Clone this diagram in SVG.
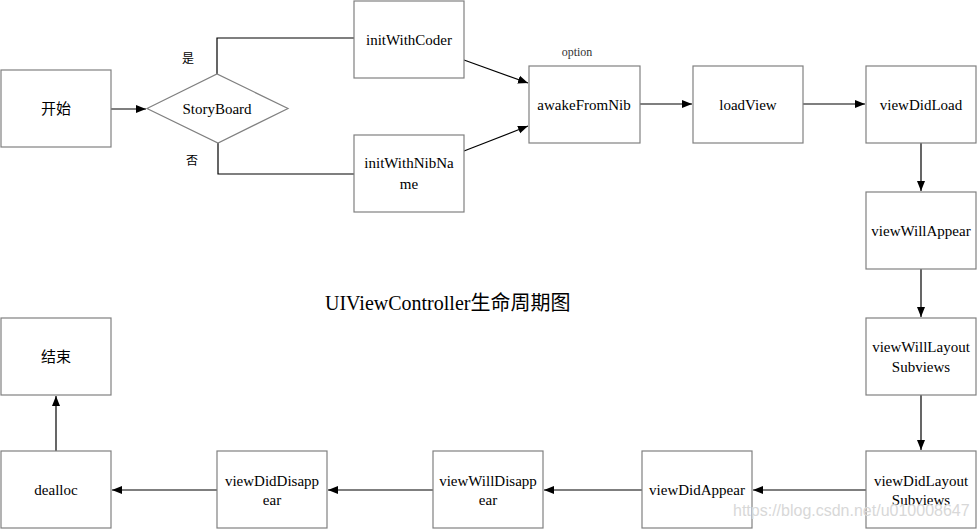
<svg xmlns="http://www.w3.org/2000/svg" width="977" height="529" viewBox="0 0 977 529">
<style>
.box{fill:#fff;stroke:#808080;stroke-width:1.2}
.t{font-family:"Liberation Serif","Noto Sans CJK SC",serif;font-size:15px;fill:#000;text-anchor:middle}
.c{fill:none;stroke:#000;stroke-width:1.2}
.lbl{font-family:"Liberation Serif","Noto Sans CJK SC",serif;font-size:12px;fill:#000;text-anchor:middle}
</style>
<defs>
<marker id="ah" viewBox="0 0 10 10" refX="10" refY="5" markerWidth="10" markerHeight="10" markerUnits="userSpaceOnUse" orient="auto">
<path d="M0,1 L10,5 L0,9 Z" fill="#000"/>
</marker>
</defs>
<rect width="977" height="529" fill="#fff"/>
<g id="connectors">
<path class="c" d="M111,109 H146" marker-end="url(#ah)"/>
<path class="c" d="M217,74 V38 H354"/>
<path class="c" d="M218,143 V174 H354"/>
<path class="c" d="M464,60 L528,83" marker-end="url(#ah)"/>
<path class="c" d="M464,151 L528,126" marker-end="url(#ah)"/>
<path class="c" d="M640,104 H692" marker-end="url(#ah)"/>
<path class="c" d="M803,104 H865" marker-end="url(#ah)"/>
<path class="c" d="M921,143 V191" marker-end="url(#ah)"/>
<path class="c" d="M921,269 V317" marker-end="url(#ah)"/>
<path class="c" d="M921,395 V450" marker-end="url(#ah)"/>
<path class="c" d="M866,490 H753" marker-end="url(#ah)"/>
<path class="c" d="M642,490 H544" marker-end="url(#ah)"/>
<path class="c" d="M433,490 H328" marker-end="url(#ah)"/>
<path class="c" d="M217,490 H112" marker-end="url(#ah)"/>
<path class="c" d="M56,451 V396" marker-end="url(#ah)"/>
<text class="lbl" x="188" y="63">是</text>
<text class="lbl" x="192" y="165">否</text>
<text class="lbl" x="577" y="56" style="fill:#333">option</text>
</g>
<g id="start"><rect class="box" x="1" y="70" width="110" height="77"/><text class="t" x="56" y="114">开始</text></g>
<g id="storyboard"><path d="M147,108.5 L217,74 L288,108.5 L218,143 Z" fill="#fff" stroke="#808080" stroke-width="1.2"/><text class="t" x="217" y="114">StoryBoard</text></g>
<g id="initWithCoder"><rect class="box" x="354" y="1" width="110" height="77"/><text class="t" x="409" y="45">initWithCoder</text></g>
<g id="initWithNibName"><rect class="box" x="354" y="135" width="110" height="77"/><text class="t" x="409" y="168">initWithNibNa</text><text class="t" x="409" y="189">me</text></g>
<g id="awakeFromNib"><rect class="box" x="529" y="66" width="111" height="77"/><text class="t" x="584" y="110">awakeFromNib</text></g>
<g id="loadView"><rect class="box" x="693" y="66" width="110" height="77"/><text class="t" x="748" y="110">loadView</text></g>
<g id="viewDidLoad"><rect class="box" x="866" y="66" width="110" height="77"/><text class="t" x="921" y="110">viewDidLoad</text></g>
<g id="viewWillAppear"><rect class="box" x="866" y="192" width="110" height="77"/><text class="t" x="921" y="236">viewWillAppear</text></g>
<g id="viewWillLayoutSubviews"><rect class="box" x="866" y="318" width="110" height="77"/><text class="t" x="921" y="352">viewWillLayout</text><text class="t" x="921" y="372">Subviews</text></g>
<g id="viewDidLayoutSubviews"><rect class="box" x="866" y="451" width="110" height="77"/><text class="t" x="921" y="486">viewDidLayout</text><text class="t" x="921" y="505">Subviews</text></g>
<g id="viewDidAppear"><rect class="box" x="642" y="451" width="110" height="77"/><text class="t" x="697" y="495">viewDidAppear</text></g>
<g id="viewWillDisappear"><rect class="box" x="433" y="451" width="110" height="77"/><text class="t" x="488" y="486">viewWillDisapp</text><text class="t" x="488" y="505">ear</text></g>
<g id="viewDidDisappear"><rect class="box" x="217" y="451" width="110" height="77"/><text class="t" x="272" y="486">viewDidDisapp</text><text class="t" x="272" y="505">ear</text></g>
<g id="dealloc"><rect class="box" x="1" y="451" width="110" height="77"/><text class="t" x="56" y="495">dealloc</text></g>
<g id="end"><rect class="box" x="1" y="318" width="110" height="77"/><text class="t" x="56" y="362">结束</text></g>
<text id="title" x="325" y="310" style="font-family:'Liberation Serif','Noto Sans CJK SC',serif;font-size:20px;fill:#000">UIViewController生命周期图</text>
<text id="watermark" x="733" y="516" style="font-family:'Liberation Sans',Arial,sans-serif;font-size:16px;fill:#d8d8d8">https://blog.csdn.net/u010008647</text>
</svg>
